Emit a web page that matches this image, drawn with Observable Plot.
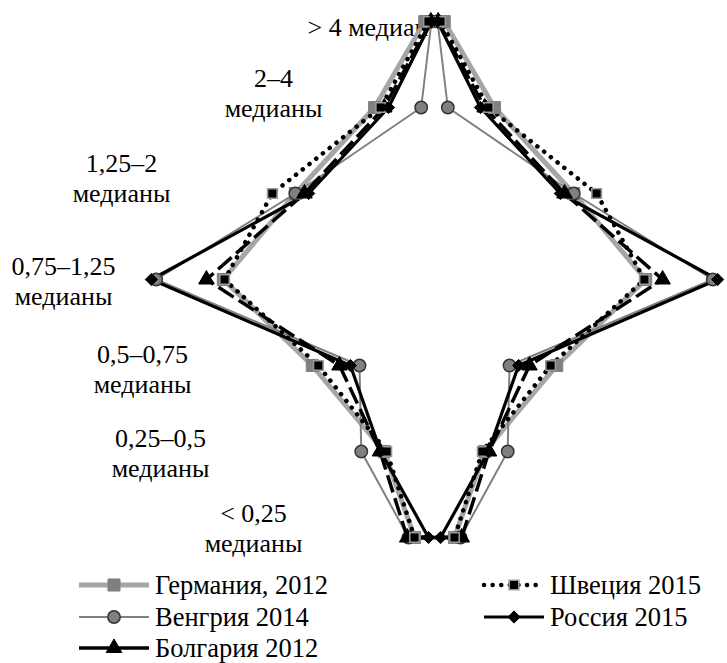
<!DOCTYPE html>
<html><head><meta charset="utf-8">
<script src="https://cdn.jsdelivr.net/npm/d3@7"></script>
<script src="https://cdn.jsdelivr.net/npm/@observablehq/plot@0.6"></script>
<style>
body{margin:0;background:#fff;font-family:"Liberation Serif","Times New Roman",serif;}
#wrap{position:relative;width:727px;height:663px;overflow:hidden;}
#chart svg{display:block;}
#chart text{font-family:"Liberation Serif","Times New Roman",serif !important;}
.item{position:absolute;display:flex;align-items:center;font-size:26.5px;line-height:1;color:#000;white-space:nowrap;}
.item svg{display:block;margin-right:3px;}
</style></head><body>
<div id="wrap"><div id="chart"></div><div id="legend"></div></div>
<script>
// Income groups (relative to median), top to bottom
const categories = ["> 4", "2–4", "1,25–2", "0,75–1,25", "0,5–0,75", "0,25–0,5", "< 0,25"];
const rowLabels = ["> 4 медиан", "2–4\nмедианы", "1,25–2\nмедианы", "0,75–1,25\nмедианы", "0,5–0,75\nмедианы", "0,25–0,5\nмедианы", "< 0,25\nмедианы"];

// Share of population, %
const germany2012  = [1.6, 9.9, 23.0, 34.9, 20.2, 8.3, 3.3];
const hungary2014  = [0.5, 2.2, 23.0, 46.0, 12.4, 12.1, 4.3];
const bulgaria2012 = [0.6, 8.3, 21.5, 37.7, 15.7, 9.0, 4.5];
const sweden2015   = [1.0, 8.9, 26.8, 34.7, 19.2, 7.9, 3.3];
const russia2015   = [0.5, 7.6, 20.8, 46.8, 13.9, 8.9, 1.0];

const seriesNames = ["Германия, 2012", "Венгрия 2014", "Болгария 2012", "Швеция 2015", "Россия 2015"];

const FONT = "'Liberation Serif', 'Times New Roman', serif";

// styles
const styles = [
  {values: germany2012,  stroke:"#a6a6a6", sw:5,   dash:null,      legendDash:null, cap:"butt",  symbol:"square",   r:6.8, fill:"#808080", mstroke:"#808080", msw:1},
  {values: hungary2014,  stroke:"#808080", sw:2,   dash:null,      legendDash:null, cap:"butt",  symbol:"circle",   r:6.2, fill:"#808080", mstroke:"#333",    msw:1.5},
  {values: bulgaria2012, stroke:"#000",    sw:3.5, dash:"18,6",    legendDash:null, cap:"butt",  symbol:"triangle", r:5.8, fill:"#000",    mstroke:"#000",    msw:1},
  {values: sweden2015,   stroke:"#000",    sw:4.5, dash:"0.1,8.5", legendDash:"0.1,8.5", cap:"round", symbol:"square",   r:5.4, fill:"#000",    mstroke:"#999",    msw:1.6},
  {values: russia2015,   stroke:"#000",    sw:3.2, dash:null,      legendDash:null, cap:"butt",  symbol:"diamond2", r:5.5, fill:"#000",    mstroke:"#000",    msw:1}
];

// label layout (pixel offsets from left edge / row centre)
const labelLayout = [
  {dx:307, dy:5,   anchor:"start"},
  {dx:273, dy:-15, anchor:"middle"},
  {dx:121, dy:-16, anchor:"middle"},
  {dx:63,  dy:1,   anchor:"middle"},
  {dx:142, dy:3,   anchor:"middle"},
  {dx:160, dy:1,   anchor:"middle"},
  {dx:253, dy:-10, anchor:"middle"}
];

const W = 727, H = 566, CX = 434, PX_PER_PCT = 6.05;

function pts(values, name){
  const left = categories.map((c,i)=>({series:name, cat:c, x:-values[i]}));
  const right = categories.map((c,i)=>({series:name, cat:c, x:values[i]})).reverse();
  return left.concat(right);
}

const marks = [];
labelLayout.forEach((L,i)=>{
  marks.push(Plot.text([categories[i]], {y:d=>d, text:()=>rowLabels[i], frameAnchor:"left", dx:L.dx, dy:L.dy,
    textAnchor:L.anchor, lineAnchor:"middle", lineHeight:1.15, fontSize:26, fill:"#000", fontFamily:FONT}));
});
styles.forEach((s,k)=>{
  const data = pts(s.values, seriesNames[k]);
  marks.push(Plot.line(data, {x:"x", y:"cat", curve:"linear-closed", stroke:s.stroke, strokeWidth:s.sw,
    strokeDasharray:s.dash, strokeLinecap:s.cap, strokeLinejoin:"round"}));
});
styles.forEach((s,k)=>{
  const data = pts(s.values, seriesNames[k]);
  marks.push(Plot.dot(data, {x:"x", y:"cat", symbol:s.symbol, r:s.r, fill:s.fill, stroke:s.mstroke, strokeWidth:s.msw}));
});

const chart = Plot.plot({
  width:W, height:H, margin:0,
  x:{domain:[-CX/PX_PER_PCT, (W-CX)/PX_PER_PCT], range:[0,W], axis:null},
  y:{type:"point", domain:categories, range:[19,538], padding:0, axis:null},
  style:{background:"#fff", overflow:"visible", fontFamily:FONT},
  marks
});
document.getElementById("chart").appendChild(chart);

// legend
const symMap = {square:d3.symbolSquare, circle:d3.symbolCircle, triangle:d3.symbolTriangle, diamond2:(d3.symbolDiamond2||d3.symbolSquare)};
const legendPos = [
  {left:76,  top:585, w:76},
  {left:76,  top:617, w:76},
  {left:76,  top:648, w:76},
  {left:481, top:585, w:66},
  {left:481, top:617, w:66}
];
const leg = document.getElementById("legend");
styles.forEach((s,k)=>{
  const p = legendPos[k];
  const div = document.createElement("div");
  div.className = "item";
  div.style.left = p.left+"px"; div.style.top = (p.top-13)+"px";
  const ns = "http://www.w3.org/2000/svg";
  const svg = document.createElementNS(ns,"svg");
  svg.setAttribute("width", p.w); svg.setAttribute("height", 26);
  const line = document.createElementNS(ns,"line");
  line.setAttribute("x1", 3); line.setAttribute("x2", p.w-3);
  line.setAttribute("y1", 13); line.setAttribute("y2", 13);
  line.setAttribute("stroke", s.stroke); line.setAttribute("stroke-width", s.sw);
  if (s.legendDash) line.setAttribute("stroke-dasharray", s.legendDash);
  line.setAttribute("stroke-linecap", s.cap);
  svg.appendChild(line);
  const path = document.createElementNS(ns,"path");
  const size = Math.PI*s.r*s.r;
  path.setAttribute("d", d3.symbol(symMap[s.symbol], size)());
  let tr = `translate(${p.w/2},13)`;
  if (s.symbol==="diamond2" && !d3.symbolDiamond2) tr += " rotate(45)";
  path.setAttribute("transform", tr);
  path.setAttribute("fill", s.fill); path.setAttribute("stroke", s.mstroke); path.setAttribute("stroke-width", s.msw);
  svg.appendChild(path);
  div.appendChild(svg);
  const t = document.createElement("span");
  t.textContent = seriesNames[k];
  t.style.fontFamily = FONT;
  div.appendChild(t);
  leg.appendChild(div);
});
</script>
</body></html>
